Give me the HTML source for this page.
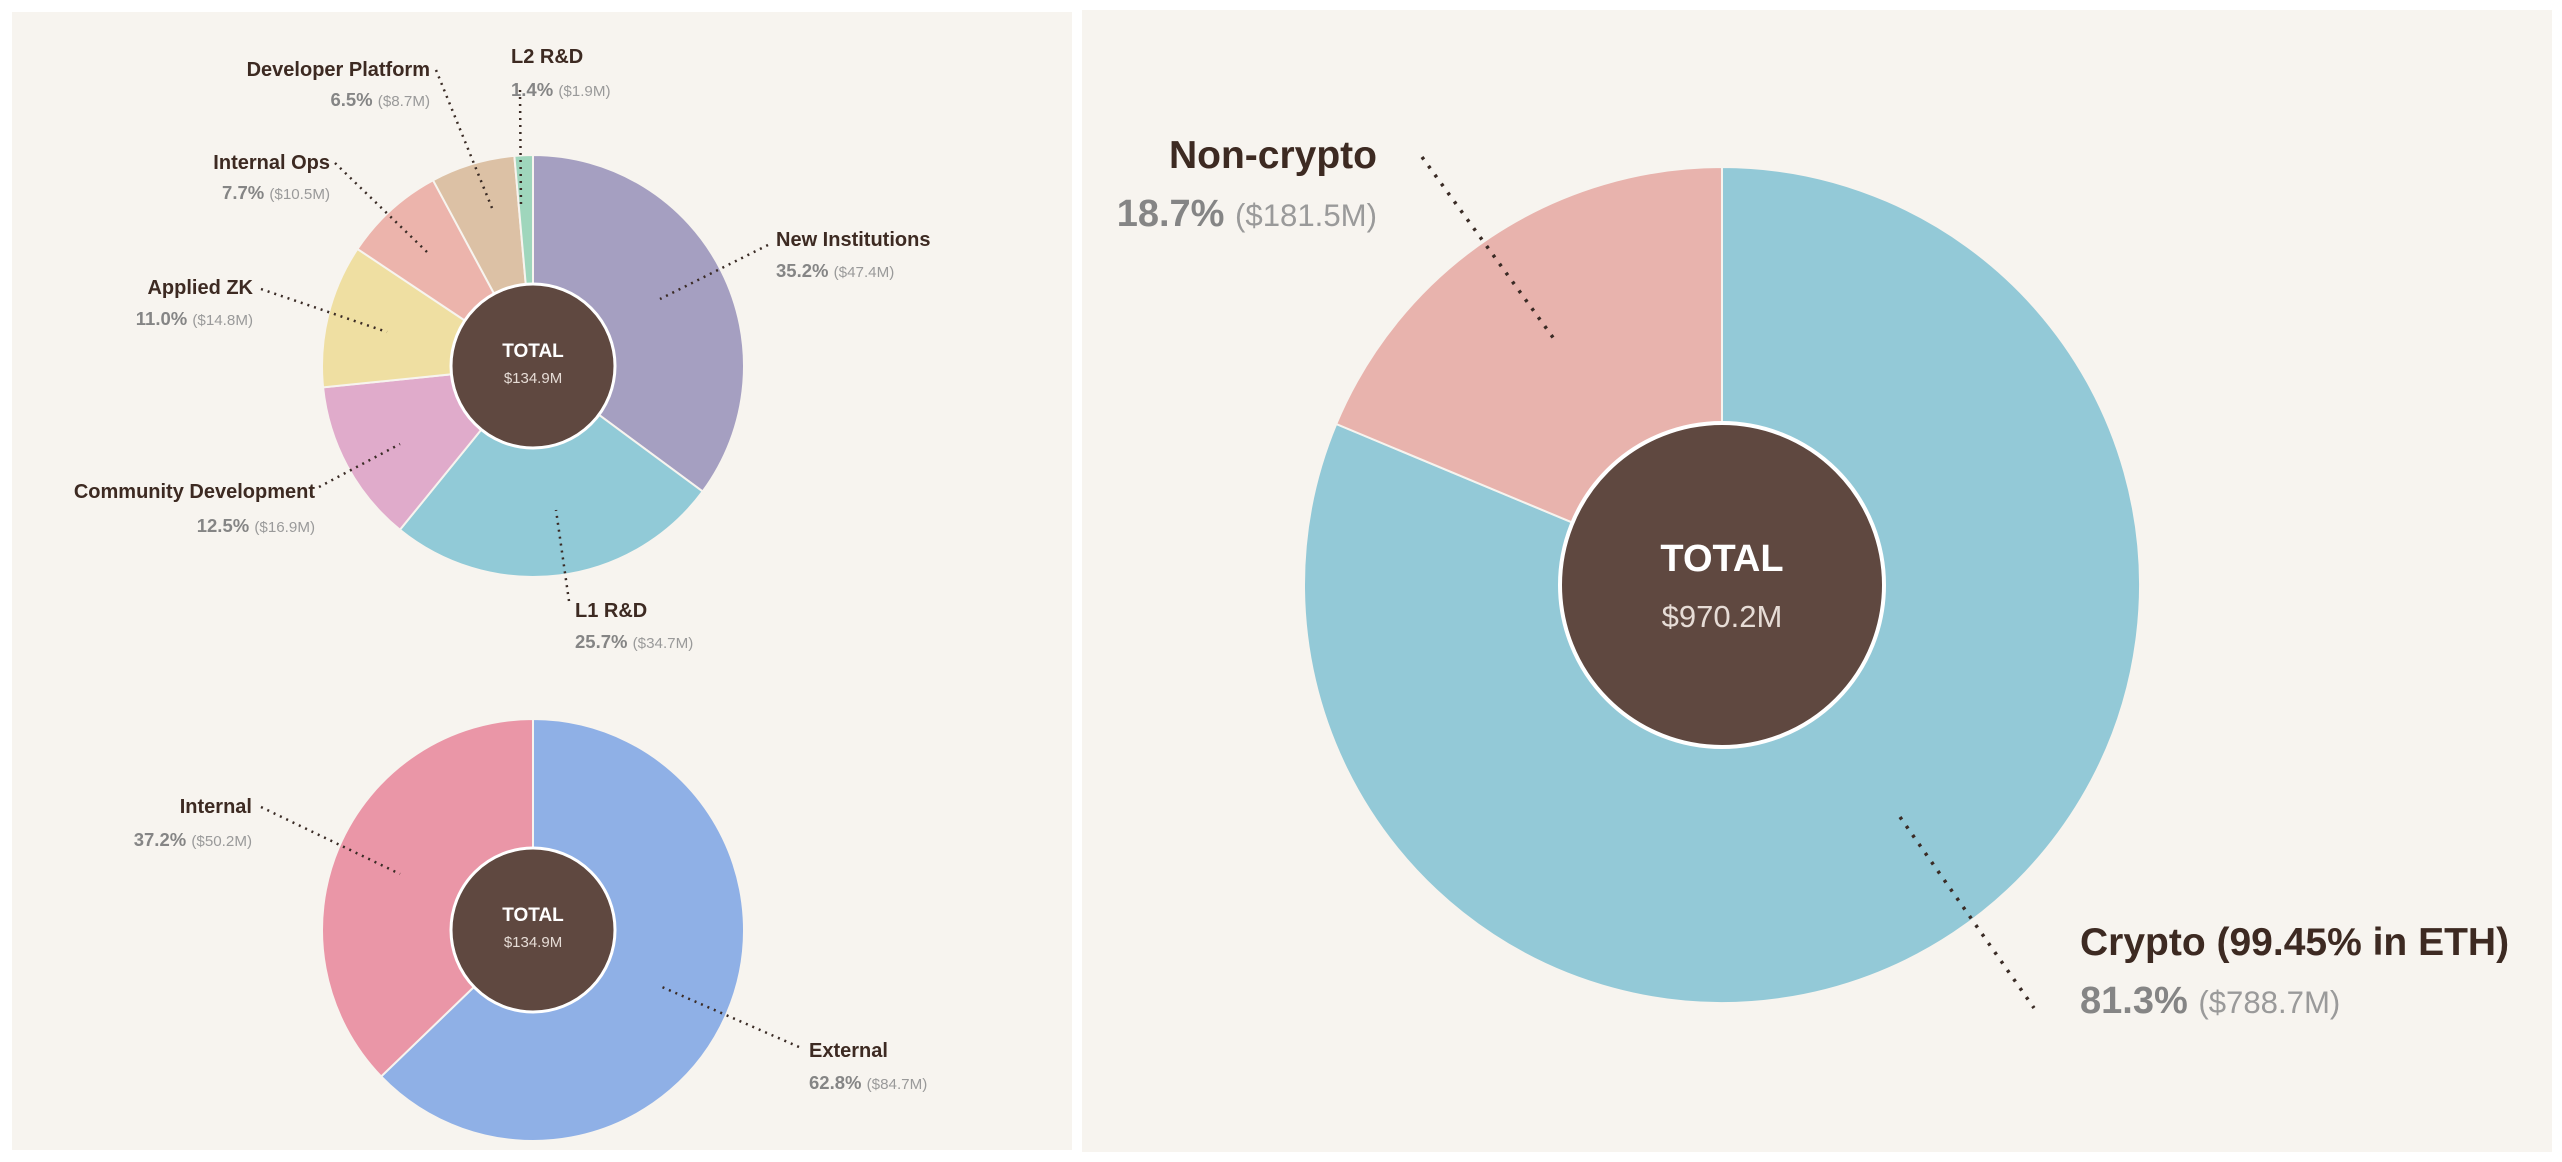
<!DOCTYPE html>
<html><head><meta charset="utf-8"><style>
html,body{margin:0;padding:0;background:#fff;}
svg{display:block;font-family:"Liberation Sans",sans-serif;}
</style></head><body>
<svg id="c" width="2562" height="1162" viewBox="0 0 2562 1162">
<rect x="0" y="0" width="2562" height="1162" fill="#ffffff"/>
<rect x="12" y="12" width="1060" height="1138" fill="#f7f4ef"/>
<rect x="1082" y="10" width="1470" height="1142" fill="#f7f4ef"/>
<g id="g"></g>
</svg>
<script>
const catsA = ["New Institutions","L1 R&D","Community Development","Applied ZK","Internal Ops","Developer Platform","L2 R&D"];
const valsA = [47.4,34.7,16.9,14.8,10.5,8.7,1.9];
const pctA = ["35.2%","25.7%","12.5%","11.0%","7.7%","6.5%","1.4%"];
const colA = ["#a59fc1","#91cad7","#e0abcb","#efdfa2","#ecb4ac","#dcc1a5","#9fd6bc"];
const catsB = ["External","Internal"];
const valsB = [84.7,50.2];
const pctB = ["62.8%","37.2%"];
const colB = ["#8fb0e6","#ea96a7"];
const catsC = ["Crypto (99.45% in ETH)","Non-crypto"];
const valsC = [788.7,181.5];
const pctC = ["81.3%","18.7%"];
const colC = ["#93c9d7","#e8b3ad"];
const totals = ["$134.9M","$134.9M","$970.2M"];

const NS="http://www.w3.org/2000/svg";
const g=document.getElementById('g');
function mk(t,a){const e=document.createElementNS(NS,t);for(const k in a)e.setAttribute(k,a[k]);g.appendChild(e);return e;}
function pt(cx,cy,r,a){return [cx+r*Math.sin(a),cy-r*Math.cos(a)];}
function donut(name,cx,cy,r,ri,vals,cols,cats,total,big){
  const sum=vals.reduce((a,b)=>a+b,0);let a0=0;
  vals.forEach((v,i)=>{
    const a1=a0+v/sum*2*Math.PI;
    const p0=pt(cx,cy,r,a0),p1=pt(cx,cy,r,a1);
    const lg=(a1-a0)>Math.PI?1:0;
    const p=mk('path',{d:`M${cx},${cy}L${p0[0]},${p0[1]}A${r},${r} 0 ${lg} 1 ${p1[0]},${p1[1]}Z`,fill:cols[i],stroke:"#f7f4ef","stroke-width":2});
    
    
    a0=a1;
  });
  const c=mk('circle',{cx:cx,cy:cy,r:ri,fill:"#5f4840",stroke:"#ffffff","stroke-width":big?4:3});
  
  
  const t1=mk('text',{x:cx,y:cy+(big?-14:-9),"text-anchor":"middle",fill:"#fff","font-weight":"bold","font-size":big?38:19});
  t1.textContent="TOTAL";
  
  
  const t2=mk('text',{x:cx,y:cy+(big?42:17),"text-anchor":"middle",fill:"#e6dcd6","font-size":big?31:15});
  t2.textContent=total;
  
  
}
function leader(name,x1,y1,x2,y2,big){
  const l=mk('line',{x1:x1,y1:y1,x2:x2,y2:y2,stroke:"#3a2b25","stroke-width":big?3.5:2.5,"stroke-dasharray":big?"3 8":"2 5"});
  
  
}
function label(name,x,y1,y2,anchor,title,pct,val,fs1,fs2){
  const t=mk('text',{x:x,y:y1,"text-anchor":anchor,fill:"#3d2a22","font-weight":"bold","font-size":fs1});
  t.textContent=title;
  
  
  const s=mk('text',{x:x,y:y2,"text-anchor":anchor,"font-size":fs2});
  
  
  const a=document.createElementNS(NS,'tspan');a.setAttribute('fill','#858585');a.setAttribute('font-weight','bold');a.textContent=pct+' ';s.appendChild(a);
  const b=document.createElementNS(NS,'tspan');b.setAttribute('fill','#9a9a9a');b.setAttribute('font-size',fs2*0.82);b.textContent='($'+val.toFixed(1)+'M)';s.appendChild(b);
}
donut('team-donut',533,366,211,82,valsA,colA,catsA,totals[0],false);
donut('internal-external-donut',533,930,211,82,valsB,colB,catsB,totals[1],false);
donut('asset-donut',1722,585,418,162,valsC,colC,catsC,totals[2],true);

leader('new-institutions',768,245,660,299);
leader('l1-rd',569,601,556,510);
leader('community-development',319,487,400,444);
leader('applied-zk',261,289,387,332);
leader('internal-ops',335,163,428,253);
leader('developer-platform',436,70,492,208);
leader('l2-rd',520,90,521,209);
leader('internal',261,807,400,874);
leader('external',799,1047,662,987);
leader('non-crypto',1422,157,1557,343,true);
leader('crypto',1900,817,2034,1008,true);

const F1=20,F2=18.5;
label('new-institutions',776,246,277,'start',catsA[0],pctA[0],valsA[0],F1,F2);
label('l1-rd',575,617,648,'start',catsA[1],pctA[1],valsA[1],F1,F2);
label('community-development',315,498,532,'end',catsA[2],pctA[2],valsA[2],F1,F2);
label('applied-zk',253,294,325,'end',catsA[3],pctA[3],valsA[3],F1,F2);
label('internal-ops',330,169,199,'end',catsA[4],pctA[4],valsA[4],F1,F2);
label('developer-platform',430,76,106,'end',catsA[5],pctA[5],valsA[5],F1,F2);
label('l2-rd',511,63,96,'start',catsA[6],pctA[6],valsA[6],F1,F2);
label('internal',252,813,846,'end',catsB[1],pctB[1],valsB[1],F1,F2);
label('external',809,1057,1089,'start',catsB[0],pctB[0],valsB[0],F1,F2);
label('non-crypto',1377,168,226,'end',catsC[1],pctC[1],valsC[1],39,38);
label('crypto',2080,955,1013,'start',catsC[0],pctC[0],valsC[0],39,38);
</script>
</body></html>
